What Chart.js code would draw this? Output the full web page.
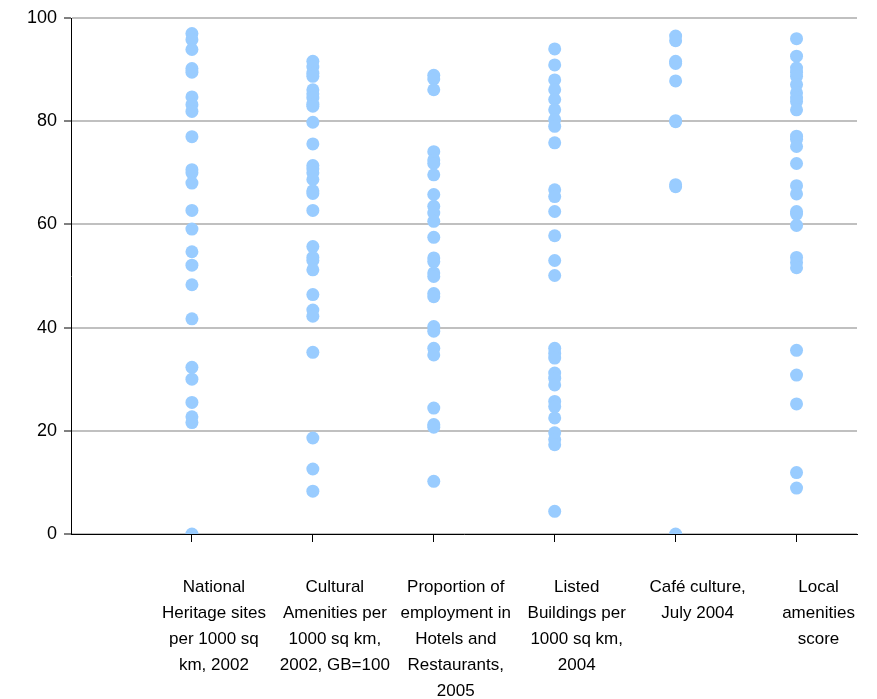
<!DOCTYPE html>
<html>
<head>
<meta charset="utf-8">
<script src="https://cdn.jsdelivr.net/npm/chart.js@4.4.1/dist/chart.umd.min.js"></script>
<style>
  body { margin: 0; background: #fff; }
  #wrap { width: 877px; height: 699px; position: relative; }
</style>
</head>
<body>
<div id="wrap"><canvas id="chart"></canvas></div>
<script>
// category labels (one array of lines per category)
const categories = [
    ['National', 'Heritage sites', 'per 1000 sq', 'km, 2002'],
    ['Cultural', 'Amenities per', '1000 sq km,', '2002, GB=100'],
    ['Proportion of', 'employment in', 'Hotels and', 'Restaurants,', '2005'],
    ['Listed', 'Buildings per', '1000 sq km,', '2004'],
    ['Café culture,', 'July 2004'],
    ['Local', 'amenities', 'score']
];

// values
const heritageSites = [97, 95.8, 93.9, 90.2, 89.5, 84.7, 83.2, 81.9, 77, 70.6, 70, 68, 62.7, 59.1, 54.7, 52.1, 48.3, 41.7, 32.3, 30, 25.5, 22.7, 21.6, 0];
const culturalAmenities = [91.6, 90.5, 89.3, 88.7, 86.1, 85.3, 84.5, 83.3, 82.9, 79.8, 75.6, 71.4, 70.8, 70, 68.7, 66.5, 66, 62.7, 55.7, 53.6, 53, 51.2, 46.4, 43.4, 42.2, 35.2, 18.6, 12.6, 8.3];
const hotelsEmployment = [88.9, 88.2, 86.1, 74.1, 72.5, 71.8, 69.6, 65.8, 63.5, 62.2, 60.6, 57.5, 53.5, 52.8, 50.6, 49.9, 46.6, 46.0, 40.2, 39.3, 36.0, 34.7, 24.4, 21.2, 20.7, 10.2];
const listedBuildings = [94.0, 90.9, 88.0, 86.1, 84.2, 82.2, 80.3, 79.0, 75.8, 66.7, 65.4, 62.5, 57.8, 53.0, 50.1, 36.0, 35.0, 34.1, 31.2, 30.2, 28.9, 25.7, 24.7, 22.5, 19.6, 18.3, 17.3, 4.4];
const cafeCulture = [96.5, 95.6, 91.6, 91.2, 87.8, 80.1, 79.9, 67.7, 67.3, 0];
const localAmenities = [96.0, 92.6, 90.3, 89.5, 88.7, 87.1, 85.5, 84.5, 83.8, 82.2, 77.1, 76.5, 75.1, 71.8, 67.5, 65.9, 62.5, 62, 59.8, 53.6, 52.6, 51.6, 35.6, 30.8, 25.2, 11.9, 8.9];

const yTicks = [0, 20, 40, 60, 80, 100];

const columns = [heritageSites, culturalAmenities, hotelsEmployment, listedBuildings, cafeCulture, localAmenities];

const points = [];
columns.forEach(function (col, i) {
    col.forEach(function (v) {
        points.push({ x: i + 1, y: v });
    });
});

const labelFont = { family: 'Liberation Sans, Arial, sans-serif', size: 17, lineHeight: 1.53 };

new Chart(document.getElementById('chart').getContext('2d'), {
    type: 'scatter',
    data: {
        datasets: [{
            data: points,
            backgroundColor: '#99ccff',
            borderWidth: 0,
            pointRadius: 6.5,
            pointHoverRadius: 6.5
        }]
    },
    options: {
        responsive: true,
        maintainAspectRatio: false,
        animation: false,
        layout: { padding: { top: 18, right: 20, left: 0, bottom: 0 } },
        plugins: { legend: { display: false }, tooltip: { enabled: false } },
        scales: {
            x: {
                type: 'linear',
                min: 0,
                max: 6.5,
                afterBuildTicks: function (scale) {
                    scale.ticks = categories.map(function (c, i) { return { value: i + 1 }; });
                },
                afterFit: function (scale) { scale.height = 165; },
                grid: {
                    drawOnChartArea: false,
                    drawTicks: true,
                    tickLength: 8,
                    tickColor: '#000'
                },
                border: { display: true, color: '#000', width: 1 },
                ticks: {
                    autoSkip: false,
                    maxRotation: 0,
                    minRotation: 0,
                    labelOffset: 22,
                    padding: 32,
                    color: '#000',
                    font: labelFont,
                    callback: function (v) { return categories[v - 1] || ''; }
                }
            },
            y: {
                min: 0,
                max: 100,
                afterBuildTicks: function (scale) {
                    scale.ticks = yTicks.map(function (v) { return { value: v }; });
                },
                afterFit: function (scale) { scale.width = 71; },
                grid: {
                    color: '#c0c0c0',
                    lineWidth: 2,
                    tickColor: '#000',
                    tickLength: 7,
                    tickWidth: 1
                },
                border: { display: true, color: '#000', width: 1 },
                ticks: {
                    padding: 7,
                    color: '#000',
                    font: { family: 'Liberation Sans, Arial, sans-serif', size: 18 }
                }
            }
        }
    }
});
</script>
</body>
</html>
